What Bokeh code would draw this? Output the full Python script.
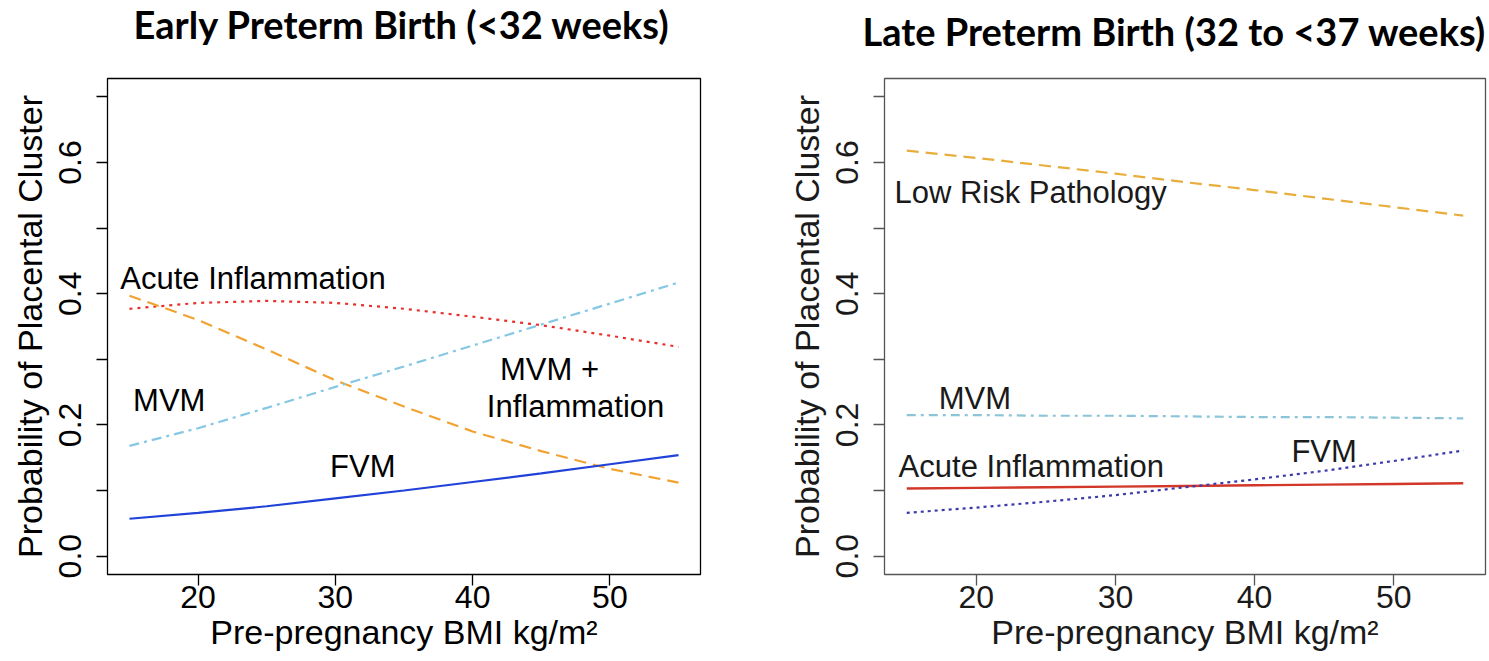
from bokeh.plotting import figure
from bokeh.layouts import row
from bokeh.models import (FixedTicker, PrintfTickFormatter, Range1d, ColumnDataSource, LinearAxis,
                          Title, CustomJSTickFormatter)
from bokeh.core.properties import value
from bokeh.embed import file_html
from bokeh.resources import INLINE

# ---------------- data ----------------
bmi = [15, 20, 25, 30, 35, 40, 45, 50, 55]

# Early preterm birth (<32 weeks)
early_red_dotted = [0.377, 0.386, 0.389, 0.386, 0.377, 0.365, 0.352, 0.336, 0.319]
early_orange_dashed = [0.397, 0.360, 0.315, 0.268, 0.228, 0.190, 0.160, 0.133, 0.112]
early_skyblue_dashdot = [0.168, 0.195, 0.226, 0.258, 0.289, 0.321, 0.353, 0.385, 0.417]
early_blue_solid = [0.057, 0.066, 0.076, 0.088, 0.100, 0.113, 0.126, 0.140, 0.154]

early_label_text = ["Acute Inflammation", "MVM", "FVM", "MVM +", "Inflammation"]
early_label_x = [24.0, 17.9, 32.0, 45.6, 47.5]
early_label_y = [0.423, 0.237, 0.137, 0.285, 0.228]

# Late preterm birth (32 to <37 weeks)
late_orange_dashed = [0.618, 0.607, 0.595, 0.583, 0.570, 0.558, 0.545, 0.532, 0.519]
late_skyblue_dashdot = [0.215, 0.215, 0.214, 0.214, 0.213, 0.212, 0.212, 0.211, 0.210]
late_red_solid = [0.103, 0.104, 0.105, 0.106, 0.107, 0.108, 0.109, 0.110, 0.111]
late_blue_dotted = [0.066, 0.074, 0.083, 0.093, 0.105, 0.117, 0.130, 0.145, 0.161]

late_label_text = ["Low Risk Pathology", "MVM", "Acute Inflammation", "FVM"]
late_label_x = [23.9, 19.9, 23.95, 45.0]
late_label_y = [0.555, 0.240, 0.137, 0.160]

x_ticks = [20, 30, 40, 50]
y_major = [0.0, 0.2, 0.4, 0.6]
y_minor = [0.1, 0.3, 0.5, 0.7]

title_left = "Early Preterm Birth (<32 weeks)"
title_right = "Late Preterm Birth (32 to <37 weeks)"
x_label = "Pre-pregnancy BMI kg/m²"
y_label = "Probability of Placental Cluster"

FONT = "Liberation Sans"
TITLE_FONT = "Lato"


def make_fig(width, height, borders, frame_color, text_color, title, title_offset, title_lift):
    bl, br, bt, bb = borders
    p = figure(width=width, height=height, output_backend="svg", toolbar_location=None,
               x_range=Range1d(13.4, 56.6), y_range=Range1d(-0.028, 0.728),
               min_border_left=bl, min_border_right=br, min_border_top=bt, min_border_bottom=bb)

    xa = p.below[0]
    ya = p.left[0]

    # invisible spacer axis directly above the frame (one hidden tick), title outside it
    spacer = LinearAxis(ticker=FixedTicker(ticks=[35]), axis_line_color=None,
                        formatter=CustomJSTickFormatter(code="return ''"),
                        major_tick_line_color=None, minor_tick_line_color=None,
                        major_tick_in=0, major_tick_out=title_lift,
                        minor_tick_in=0, minor_tick_out=0, major_label_standoff=0,
                        major_label_text_font_size="0px")
    p.add_layout(spacer, "above")
    p.add_layout(Title(text=title, text_font=TITLE_FONT, text_font_style="bold",
                       text_font_size="38px", align="left", offset=title_offset,
                       vertical_align="top", standoff=0, text_color="black"), "above")

    p.xgrid.visible = False
    p.ygrid.visible = False
    p.outline_line_color = frame_color
    p.outline_line_width = 1.3
    p.background_fill_color = "white"
    p.border_fill_color = "white"

    xa.ticker = FixedTicker(ticks=x_ticks)
    ya.ticker = FixedTicker(ticks=y_major, minor_ticks=y_minor)
    ya.formatter = PrintfTickFormatter(format="%.1f")
    for ax in (xa, ya):
        ax.axis_line_color = None
        ax.major_tick_line_color = frame_color
        ax.major_tick_line_width = 1.3
        ax.minor_tick_line_color = frame_color
        ax.minor_tick_line_width = 1.3
        ax.major_tick_in = 0
        ax.major_tick_out = 11
        ax.minor_tick_in = 0
        ax.minor_tick_out = 11
        ax.major_label_text_font = FONT
        ax.major_label_text_font_size = "32px"
        ax.major_label_text_color = text_color
        ax.axis_label_text_font = FONT
        ax.axis_label_text_font_size = "34px"
        ax.axis_label_text_font_style = "normal"
        ax.axis_label_text_color = text_color
    xa.minor_tick_line_color = None
    xa.major_label_standoff = 0
    xa.axis_label_standoff = 2
    ya.major_label_orientation = "vertical"
    ya.major_label_standoff = 15
    ya.axis_label_standoff = 8
    xa.axis_label = x_label
    ya.axis_label = y_label
    return p


# ---------------- left panel ----------------
p1 = make_fig(768, 660, (107, 68, 77, 85), "black", "black", title_left, 26, 30)
p1.line(bmi, early_red_dotted, line_color="#E8302A", line_width=2.2, line_dash="3 5")
p1.line(bmi, early_orange_dashed, line_color="#F2A230", line_width=2.2, line_dash="12 7")
p1.line(bmi, early_skyblue_dashdot, line_color="#86C8E4", line_width=2.2, line_dash="10 5 3 5")
p1.line(bmi, early_blue_solid, line_color="#2142D8", line_width=2.2)
src1 = ColumnDataSource(dict(x=early_label_x, y=early_label_y, t=early_label_text))
p1.text(x="x", y="y", text="t", source=src1, text_font=value(FONT), text_font_size="31px",
        text_align="center", text_baseline="middle", text_color="black")

# ---------------- right panel ----------------
p2 = make_fig(719, 660, (116, 2, 73, 86), "#555555", "#1a1a1a", title_right, -22, 23)
p2.line(bmi, late_orange_dashed, line_color="#E8AE3C", line_width=2.2, line_dash="12 7")
p2.line(bmi, late_skyblue_dashdot, line_color="#8CC4D8", line_width=2.2, line_dash="9 5 3 5")
p2.line(bmi, late_red_solid, line_color="#D2372A", line_width=2.4)
p2.line(bmi, late_blue_dotted, line_color="#3A3AAA", line_width=2.2, line_dash="3 4")
src2 = ColumnDataSource(dict(x=late_label_x, y=late_label_y, t=late_label_text))
p2.text(x="x", y="y", text="t", source=src2, text_font=value(FONT), text_font_size="31px",
        text_align="center", text_baseline="middle", text_color="#1a1a1a")

layout = row(p1, p2)
open("out.html", "w").write(file_html(layout, INLINE))
